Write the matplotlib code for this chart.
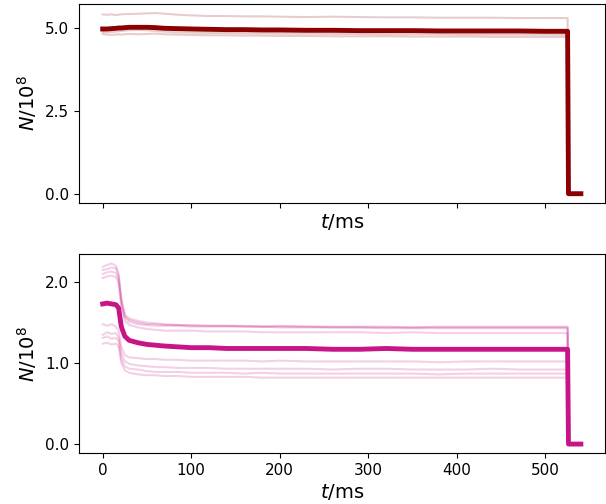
import matplotlib
matplotlib.use("Agg")
import matplotlib.pyplot as plt
from matplotlib.ticker import FormatStrFormatter

# time axis (ms), shared by every trace
t_ms = [0, 5, 10, 15, 18, 21, 25, 30, 40, 50, 60, 70, 85, 100, 120, 140, 160,
        180, 200, 230, 260, 290, 320, 350, 380, 410, 440, 470, 500, 525, 526, 540]

# top panel, N / 1e8
top_mean = [4.97, 4.97, 4.98, 4.99, 5.00, 5.00, 5.01, 5.02, 5.02, 5.02, 5.01, 4.99,
            4.98, 4.97, 4.96, 4.95, 4.95, 4.94, 4.94, 4.93, 4.93, 4.92, 4.92, 4.92,
            4.91, 4.91, 4.91, 4.91, 4.90, 4.90, 0.0, 0.0]
top_runs = [
    [5.41, 5.40, 5.41, 5.39, 5.40, 5.41, 5.42, 5.42, 5.43, 5.44, 5.45, 5.43, 5.40,
     5.38, 5.36, 5.36, 5.35, 5.35, 5.34, 5.33, 5.34, 5.33, 5.32, 5.32, 5.31, 5.31,
     5.31, 5.30, 5.30, 5.30, 0.0, 0.0],
    [4.93, 4.94, 4.95, 4.96, 4.97, 4.98, 4.99, 5.00, 5.00, 4.99, 4.98, 4.96, 4.95,
     4.94, 4.93, 4.92, 4.92, 4.91, 4.90, 4.90, 4.89, 4.89, 4.88, 4.88, 4.88, 4.87,
     4.87, 4.87, 4.86, 4.86, 0.0, 0.0],
    [4.88, 4.87, 4.88, 4.89, 4.90, 4.91, 4.92, 4.93, 4.94, 4.93, 4.91, 4.89, 4.87,
     4.86, 4.85, 4.85, 4.84, 4.84, 4.83, 4.83, 4.82, 4.82, 4.81, 4.81, 4.81, 4.80,
     4.80, 4.80, 4.80, 4.79, 0.0, 0.0],
    [4.82, 4.80, 4.79, 4.80, 4.81, 4.80, 4.81, 4.82, 4.81, 4.82, 4.83, 4.81, 4.80,
     4.79, 4.78, 4.78, 4.77, 4.77, 4.76, 4.76, 4.75, 4.75, 4.75, 4.74, 4.74, 4.74,
     4.73, 4.73, 4.73, 4.73, 0.0, 0.0],
]

# bottom panel, N / 1e8
bottom_mean = [1.73, 1.74, 1.73, 1.72, 1.68, 1.45, 1.33, 1.28, 1.25, 1.23, 1.22, 1.21,
               1.20, 1.19, 1.19, 1.18, 1.18, 1.18, 1.18, 1.18, 1.17, 1.17, 1.18, 1.17,
               1.17, 1.17, 1.17, 1.17, 1.17, 1.17, 0.0, 0.0]
bottom_runs = [
    [2.19, 2.21, 2.23, 2.20, 2.10, 1.80, 1.60, 1.55, 1.52, 1.50, 1.49, 1.48, 1.47,
     1.47, 1.46, 1.46, 1.46, 1.45, 1.46, 1.45, 1.45, 1.45, 1.45, 1.44, 1.45, 1.45,
     1.45, 1.45, 1.45, 1.45, 0.0, 0.0],
    [2.15, 2.16, 2.18, 2.17, 2.08, 1.78, 1.58, 1.53, 1.50, 1.48, 1.48, 1.47, 1.47,
     1.46, 1.46, 1.46, 1.45, 1.45, 1.45, 1.45, 1.44, 1.44, 1.44, 1.44, 1.44, 1.44,
     1.44, 1.44, 1.44, 1.44, 0.0, 0.0],
    [2.10, 2.12, 2.13, 2.11, 2.03, 1.74, 1.56, 1.51, 1.48, 1.47, 1.46, 1.46, 1.46,
     1.45, 1.45, 1.45, 1.45, 1.45, 1.44, 1.44, 1.44, 1.44, 1.43, 1.43, 1.43, 1.43,
     1.43, 1.43, 1.43, 1.43, 0.0, 0.0],
    [2.05, 2.07, 2.08, 2.06, 1.98, 1.70, 1.52, 1.47, 1.44, 1.42, 1.41, 1.40, 1.40,
     1.40, 1.39, 1.39, 1.39, 1.38, 1.38, 1.38, 1.38, 1.38, 1.37, 1.38, 1.37, 1.37,
     1.37, 1.37, 1.37, 1.37, 0.0, 0.0],
    [1.48, 1.46, 1.48, 1.45, 1.40, 1.20, 1.10, 1.07, 1.06, 1.05, 1.05, 1.04, 1.04,
     1.03, 1.03, 1.03, 1.03, 1.02, 1.03, 1.02, 1.02, 1.02, 1.02, 1.02, 1.01, 1.02,
     1.02, 1.02, 1.02, 1.02, 0.0, 0.0],
    [1.35, 1.38, 1.36, 1.37, 1.32, 1.12, 1.02, 0.99, 0.97, 0.96, 0.95, 0.95, 0.94,
     0.94, 0.94, 0.93, 0.93, 0.93, 0.93, 0.93, 0.92, 0.93, 0.93, 0.92, 0.92, 0.92,
     0.93, 0.92, 0.92, 0.92, 0.0, 0.0],
    [1.31, 1.33, 1.30, 1.31, 1.27, 1.05, 0.96, 0.93, 0.92, 0.90, 0.89, 0.89, 0.89,
     0.88, 0.88, 0.88, 0.87, 0.88, 0.87, 0.87, 0.87, 0.87, 0.87, 0.87, 0.86, 0.87,
     0.87, 0.87, 0.87, 0.87, 0.0, 0.0],
    [1.24, 1.25, 1.23, 1.24, 1.20, 1.00, 0.91, 0.88, 0.86, 0.85, 0.85, 0.84, 0.84,
     0.83, 0.83, 0.83, 0.83, 0.82, 0.82, 0.82, 0.82, 0.82, 0.82, 0.82, 0.82, 0.82,
     0.82, 0.82, 0.82, 0.82, 0.0, 0.0],
]

TOP_COLOR = "darkred"
BOTTOM_COLOR = "mediumvioletred"

fig, (ax1, ax2) = plt.subplots(2, 1, figsize=(6.06, 5.04), dpi=100, sharex=True)
fig.subplots_adjust(left=0.130, right=0.998, top=0.992, bottom=0.101, hspace=0.26)

for ax, runs, mean, color, ticks in (
    (ax1, top_runs, top_mean, TOP_COLOR, [0.0, 2.5, 5.0]),
    (ax2, bottom_runs, bottom_mean, BOTTOM_COLOR, [0.0, 1.0, 2.0]),
):
    for run in runs:
        ax.plot(t_ms, run, color=color, alpha=0.2, lw=1.5)
    ax.plot(t_ms, mean, color=color, lw=3.5)
    ax.set_yticks(ticks)
    ax.yaxis.set_major_formatter(FormatStrFormatter("%.1f"))
    ax.set_ylabel(r"$N/10^8$", fontsize=14)
    ax.set_xlabel(r"$t$/ms", fontsize=14, labelpad=3)
    ax.tick_params(labelsize=11)

ax1.tick_params(labelbottom=False)

fig.savefig("out.png", dpi=100)
